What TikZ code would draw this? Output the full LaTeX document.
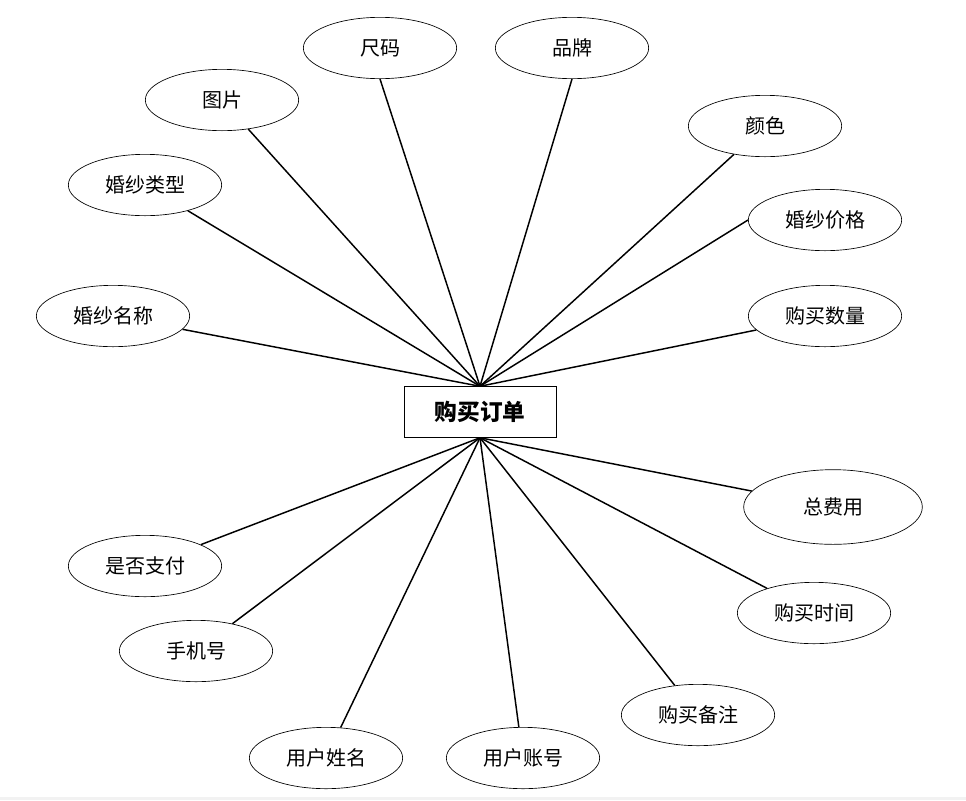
\documentclass[tikz,border=0pt]{standalone}
\usepackage{fontspec}
\setmainfont{Noto Sans CJK SC}
\usepackage{tikz}
\usetikzlibrary{shapes.geometric}

\begin{document}
\begin{tikzpicture}[x=0.75pt,y=-0.75pt,
  attr/.style={draw,ellipse,line width=0.5pt,inner sep=0pt,
               minimum width=115pt,minimum height=46pt,font=\fontsize{15}{18}\selectfont},
  entity/.style={draw,line width=0.6pt,inner sep=0pt,minimum width=114pt,
                 minimum height=38pt,font=\fontsize{17}{20}\selectfont\bfseries},
  link/.style={line width=1.1pt}]
  \useasboundingbox (0,0) rectangle (966,800);
  \fill[black!5] (0,797) rectangle (966,800);
  \node[entity] (order) at (480,412) {购买订单};
  % attributes above the entity
  \node[attr] (size)  at (380,48)  {尺码};
  \node[attr] (brand) at (572,48)  {品牌};
  \node[attr] (pic)   at (222,100) {图片};
  \node[attr] (color) at (765,126) {颜色};
  \node[attr] (type)  at (145,185) {婚纱类型};
  \node[attr] (price) at (825,220) {婚纱价格};
  \node[attr] (name)  at (113,316) {婚纱名称};
  \node[attr] (qty)   at (825,316) {购买数量};
  % attributes below the entity
  \node[attr,minimum width=134pt,minimum height=56pt] (cost) at (833,507) {总费用};
  \node[attr] (paid)  at (145,566) {是否支付};
  \node[attr] (time)  at (814,613) {购买时间};
  \node[attr] (phone) at (196,651) {手机号};
  \node[attr] (note)  at (698,715) {购买备注};
  \node[attr] (uname) at (326,758) {用户姓名};
  \node[attr] (uacc)  at (523,758) {用户账号};
  \foreach \a in {size.south,brand.south,pic,color,type,price.west,name,qty}
    \draw[link] (order.north) -- (\a);
  \foreach \a in {cost,paid,time,phone,note,uname,uacc}
    \draw[link] (order.south) -- (\a);
\end{tikzpicture}
\end{document}
